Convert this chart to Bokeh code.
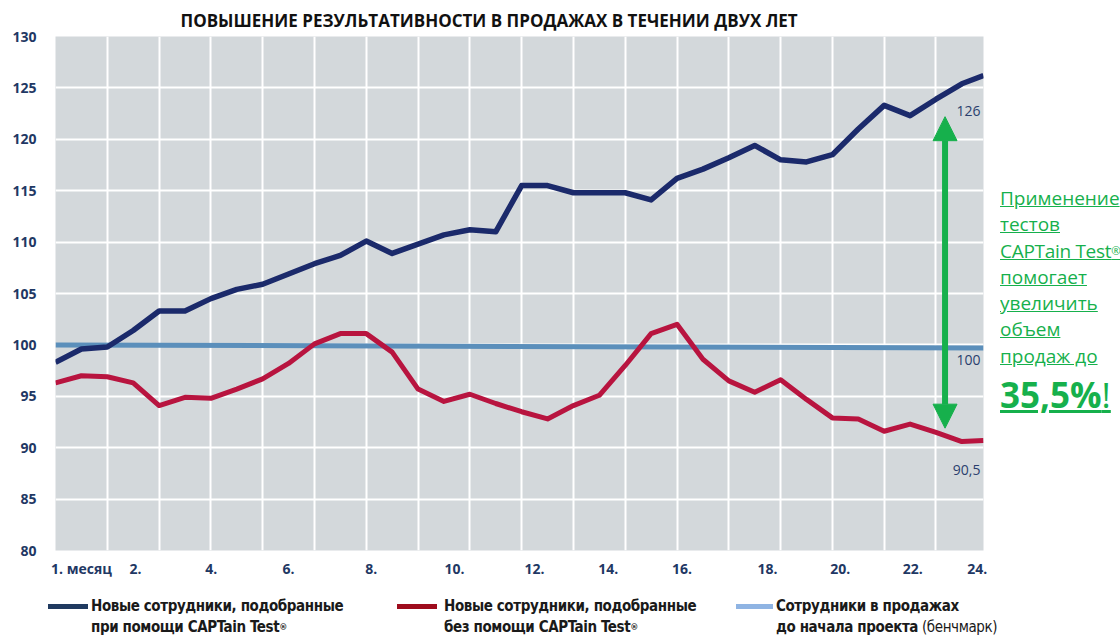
from bokeh.plotting import figure
from bokeh.models import FixedTicker, Arrow, NormalHead, Div, Range1d
from bokeh.layouts import column, row
from bokeh.embed import file_html
from bokeh.resources import INLINE
from bokeh.core.properties import value

TITLE = "ПОВЫШЕНИЕ РЕЗУЛЬТАТИВНОСТИ В ПРОДАЖАХ В ТЕЧЕНИИ ДВУХ ЛЕТ"

# x positions in months (one reading every 2/3 month, the last one at the chart's right edge)
MONTHS = [round(i * 2 / 3, 3) for i in range(36)] + [23.89]

WITH_CAPTAIN = [98.3, 99.6, 99.8, 101.4, 103.3, 103.3, 104.5, 105.4, 105.9, 106.9,
                107.9, 108.7, 110.1, 108.9, 109.8, 110.7, 111.2, 111.0, 115.5, 115.5,
                114.8, 114.8, 114.8, 114.1, 116.2, 117.1, 118.2, 119.4, 118.0, 117.8,
                118.5, 121.0, 123.3, 122.3, 123.9, 125.4, 126.2]
WITHOUT_CAPTAIN = [96.3, 97.0, 96.9, 96.3, 94.1, 94.9, 94.8, 95.7, 96.7, 98.2,
                   100.1, 101.1, 101.1, 99.3, 95.7, 94.5, 95.2, 94.3, 93.5, 92.8,
                   94.1, 95.1, 98.0, 101.1, 102.0, 98.6, 96.5, 95.4, 96.6, 94.7,
                   92.9, 92.8, 91.6, 92.3, 91.5, 90.6, 90.7]
BENCH_MONTHS = [0.0, 23.89]
BENCHMARK = [100.0, 99.7]

END_LABELS = ["126", "100", "90,5"]
END_LABEL_Y = [122.8, 98.5, 87.8]

ARROW_MONTH = 22.9
ARROW_FROM = 91.9
ARROW_TO = 122.2

X_TICK_POS = [0.67, 2.06, 4.01, 6.0, 8.13, 10.27, 12.33, 14.23, 16.13, 18.33, 20.2, 22.07, 23.73]
X_TICK_LABELS = ["1. месяц", "2.", "4.", "6.", "8.", "10.", "12.", "14.", "16.", "18.", "20.", "22.", "24."]
Y_TICKS = [80, 85, 90, 95, 100, 105, 110, 115, 120, 125, 130]
X_GRID = [j * 4 / 3 for j in range(1, 18)]

ANNOT_LINES = ["Применение", "тестов", "CAPTain Test®", "помогает", "увеличить", "объем", "продаж до"]
ANNOT_BIG = "35,5%"

LEGEND = [
    ("#203a60", "Новые сотрудники, подобранные", "при помощи CAPTain Test®", ""),
    ("#9e0c1d", "Новые сотрудники, подобранные", "без помощи CAPTain Test®", ""),
    ("#8fb4e3", "Сотрудники в продажах", "до начала проекта", " (бенчмарк)"),
]

NAVY = "#1f3864"
GREEN = "#16b04c"


def reg(s):
    # small raised registered mark, as in the reference
    return s.replace("®", '<span style="font-size:0.6em;vertical-align:top;">®</span>')


p = figure(width=1000, height=580, x_range=Range1d(0, 23.89), y_range=Range1d(80, 130),
           output_backend="svg", toolbar_location=None,
           min_border_left=55, min_border_right=17, min_border_top=36, min_border_bottom=30)
p.margin = 0
p.background_fill_color = "#d3d8db"
p.border_fill_color = "white"
p.outline_line_color = None

p.title.text = TITLE
p.title.align = "left"
p.title.offset = 125
p.title.text_font = "Open Sans"
p.title.text_font_style = "bold"
p.title.text_font_size = "17px"
p.title.text_color = "#111111"

p.xaxis.ticker = FixedTicker(ticks=X_TICK_POS)
p.xaxis.major_label_overrides = {pos: lab for pos, lab in zip(X_TICK_POS, X_TICK_LABELS)}
p.yaxis.ticker = FixedTicker(ticks=Y_TICKS)
for ax in p.axis:
    ax.axis_line_color = None
    ax.major_tick_line_color = None
    ax.minor_tick_line_color = None
    ax.major_tick_out = 0
    ax.major_tick_in = 0
    ax.minor_tick_out = 0
    ax.minor_tick_in = 0
    ax.major_label_text_font = "Open Sans"
    ax.major_label_text_font_style = "bold"
    ax.major_label_text_font_size = "14px"
    ax.major_label_text_color = NAVY
p.yaxis.major_label_standoff = 19
p.xaxis.major_label_standoff = 8

p.xgrid.ticker = FixedTicker(ticks=X_GRID)
p.xgrid.grid_line_color = "white"
p.xgrid.grid_line_width = 2
p.ygrid.grid_line_color = "white"
p.ygrid.grid_line_width = 2

p.line(BENCH_MONTHS, BENCHMARK, line_color="#5b8fbb", line_width=5)
p.line(MONTHS, WITHOUT_CAPTAIN, line_color="#b8143f", line_width=5, line_join="round")
p.line(MONTHS, WITH_CAPTAIN, line_color="#1b2a6b", line_width=5.5, line_join="round")

p.text(x=[MONTHS[-1]] * 3, y=END_LABEL_Y, text=END_LABELS, text_align="right",
       text_baseline="middle", x_offset=-3, text_font=value("Open Sans"),
       text_font_size="14px", text_color="#2a3f6e")

p.add_layout(Arrow(start=NormalHead(size=24, fill_color=GREEN, line_color=GREEN),
                   end=NormalHead(size=24, fill_color=GREEN, line_color=GREEN),
                   x_start=ARROW_MONTH, y_start=ARROW_FROM, x_end=ARROW_MONTH, y_end=ARROW_TO,
                   line_color=GREEN, line_width=6))

# right-hand annotation
annot = ('<div style="position:relative;width:120px;height:580px;overflow:hidden;'
         f'font-family:\'Open Sans\';color:{GREEN};">'
         '<div style="position:absolute;left:0;top:185px;font-size:19px;line-height:26.3px;'
         'white-space:nowrap;">')
annot += "".join(
    (f'<u style="letter-spacing:-0.3px;">{reg(t)}</u><br>' if "®" in t else f"<u>{t}</u><br>")
    for t in ANNOT_LINES)
annot += "</div>"
annot += ('<div style="position:absolute;left:0;top:375px;font-size:35px;line-height:40px;'
          f'white-space:nowrap;"><u><b>{ANNOT_BIG}</b>!</u></div></div>')
right_div = Div(text=annot, width=120, height=580, margin=0)

# legend
sw_left = [48, 397, 736]
sw_width = [40, 40, 37]
tx_left = [91, 444, 776]
leg = ('<div style="position:relative;width:1120px;height:55px;overflow:hidden;'
       "font-family:'Liberation Sans Narrow','DejaVu Sans Condensed',sans-serif;"
       'font-size:15px;letter-spacing:-0.4px;color:#1a1a1a;">')
for (col, l1, l2, extra), sl, sw, tl in zip(LEGEND, sw_left, sw_width, tx_left):
    leg += (f'<div style="position:absolute;left:{sl}px;top:24px;width:{sw}px;height:5px;'
            f'background:{col};"></div>')
    leg += (f'<div style="position:absolute;left:{tl}px;top:16px;line-height:21px;'
            f'white-space:nowrap;font-weight:bold;">{l1}<br>{reg(l2)}'
            f'<span style="font-weight:normal;">{extra}</span></div>')
leg += "</div>"
legend_div = Div(text=leg, width=1120, height=55, margin=0)

layout = column(row(p, right_div, spacing=0), legend_div, spacing=0)
open("out.html", "w").write(file_html(layout, INLINE))
